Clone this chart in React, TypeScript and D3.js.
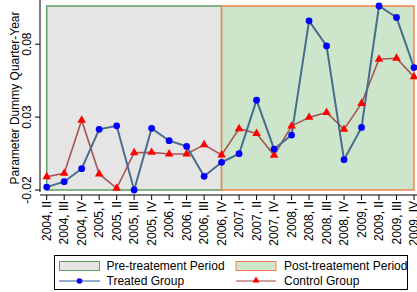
import React from "react";
import * as d3 from "d3";

const quarters = [
  "2004, II", "2004, III", "2004, IV",
  "2005, I", "2005, II", "2005, III", "2005, IV",
  "2006, I", "2006, II", "2006, III", "2006, IV",
  "2007, I", "2007, II", "2007, IV",
  "2008, I", "2008, II", "2008, III", "2008, IV",
  "2009, I", "2009, II", "2009, III", "2009, IV",
];

const treated = [
  -0.018, -0.0143, -0.0054, 0.0216, 0.024, -0.02, 0.0223, 0.0138, 0.0099,
  -0.0106, -0.001, 0.0049, 0.0416, 0.0081, 0.0177, 0.096, 0.0788, 0.0008,
  0.0229, 0.1062, 0.0983, 0.064,
];

const control = [
  -0.0109, -0.0086, 0.0279, -0.009, -0.0188, 0.0056, 0.0058, 0.0047, 0.0047,
  0.011, 0.004, 0.022, 0.0188, 0.0038, 0.0238, 0.0298, 0.0332, 0.0216,
  0.0394, 0.0697, 0.0704, 0.0576,
];

const yTicks = [-0.02, 0.03, 0.08];
const yTickLabels = ["-0.02", "0.03", "0.08"];
const treatStart = "2006, IV";

const font = "'Liberation Sans', Arial, sans-serif";

export default function App() {
  const x = d3.scalePoint<string>().domain(quarters).range([46.7, 414]);
  const y = d3.scaleLinear().domain([-0.02, 0.1062]).range([190, 6]);

  const line = d3
    .line<number>()
    .x((d, i) => x(quarters[i]) as number)
    .y((d) => y(d));

  const tri = d3.symbol().type(d3.symbolTriangle).size(32)() as string;

  const x0 = x(quarters[0]) as number;
  const xMid = x(treatStart) as number;
  const x1 = x(quarters[quarters.length - 1]) as number;
  const yTop = y(y.domain()[1]);
  const yBot = y(y.domain()[0]);
  const axisY = 195;

  return (
    <svg
      width={417}
      height={292}
      style={{ position: "absolute", left: 0, top: 0, background: "#fff" }}
      fontFamily={font}
    >
      {/* periods */}
      <rect x={x0} y={yTop} width={xMid - x0} height={yBot - yTop}
        fill="#e5e5e5" stroke="#5f9f5f" strokeWidth={1.5} />
      <rect x={xMid} y={yTop} width={x1 - xMid} height={yBot - yTop}
        fill="#cde5cb" stroke="#f0834f" strokeWidth={1.5} />

      {/* y axis */}
      <line x1={40} x2={40} y1={0} y2={192} stroke="#000" />
      {yTicks.map((t, i) => (
        <g key={t}>
          <line x1={35} x2={40} y1={y(t)} y2={y(t)} stroke="#000" />
          <text
            transform={`translate(31,${y(t)}) rotate(-90)`}
            textAnchor="middle"
            fontSize={12}
            fill="#000"
          >
            {yTickLabels[i]}
          </text>
        </g>
      ))}
      <text
        transform={`translate(19,${(yTop + yBot) / 2}) rotate(-90)`}
        textAnchor="middle"
        fontSize={12}
        fill="#000"
      >
        Parameter Dummy Quarter-Year
      </text>

      {/* x axis */}
      <line x1={40} x2={417} y1={axisY} y2={axisY} stroke="#000" />
      {quarters.map((q) => (
        <g key={q}>
          <line x1={x(q)} x2={x(q)} y1={axisY} y2={axisY + 5} stroke="#000" />
          <text
            transform={`translate(${(x(q) as number) + 4},${axisY + 6}) rotate(-90)`}
            textAnchor="end"
            fontSize={12}
            fill="#000"
          >
            {q}
          </text>
        </g>
      ))}

      {/* series */}
      <path d={line(control) as string} fill="none" stroke="#a65555" strokeWidth={1.6} />
      <path d={line(treated) as string} fill="none" stroke="#486c8e" strokeWidth={2} />
      {control.map((v, i) => (
        <path key={"c" + i} d={tri}
          transform={`translate(${x(quarters[i])},${y(v)})`} fill="#ff0000" />
      ))}
      {treated.map((v, i) => (
        <circle key={"t" + i} cx={x(quarters[i])} cy={y(v)} r={3.4} fill="#0000ff" />
      ))}

      {/* legend */}
      <rect x={54.5} y={255.5} width={353} height={34} fill="#fff" stroke="#000" />
      <rect x={59.5} y={261.5} width={40} height={9} fill="#e5e5e5" stroke="#5f9f5f" />
      <text x={106.5} y={270} fontSize={12}>Pre-treatement Period</text>
      <rect x={236} y={261.5} width={40} height={9} fill="#cde5cb" stroke="#f0834f" />
      <text x={284} y={270} fontSize={12}>Post-treatement Period</text>
      <line x1={59} x2={100} y1={281} y2={281} stroke="#7090c0" strokeWidth={1.3} />
      <circle cx={79.5} cy={281} r={2.8} fill="#0000ff" />
      <text x={106.5} y={285} fontSize={12}>Treated Group</text>
      <line x1={236} x2={276} y1={281} y2={281} stroke="#c08080" strokeWidth={1.3} />
      <path d={d3.symbol().type(d3.symbolTriangle).size(22)() as string}
        transform="translate(256,280.5)" fill="#ff0000" />
      <text x={284} y={285} fontSize={12}>Control Group</text>
    </svg>
  );
}
